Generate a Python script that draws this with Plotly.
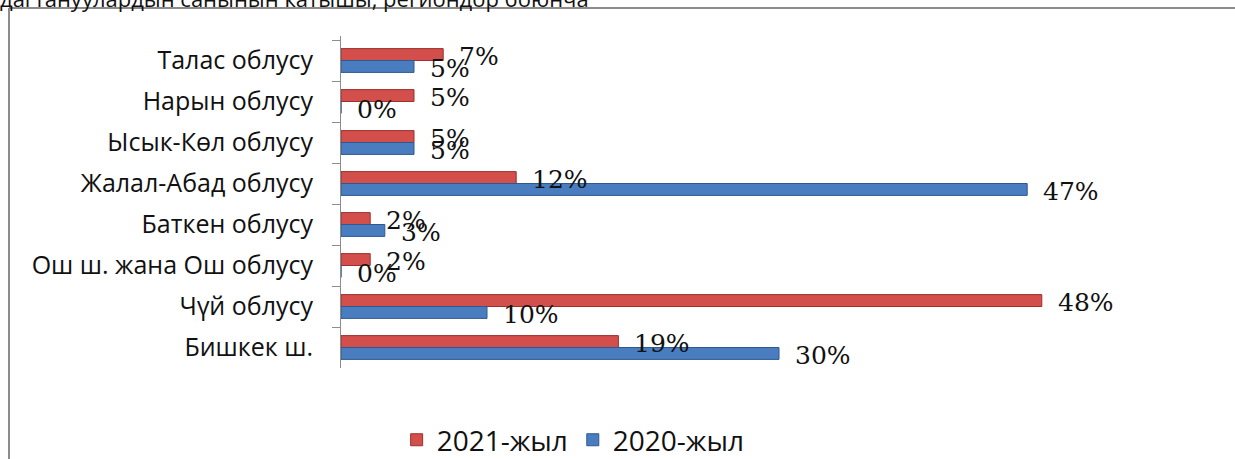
import plotly.graph_objects as go

regions = [
    "Талас облусу",
    "Нарын облусу",
    "Ысык-Көл облусу",
    "Жалал-Абад облусу",
    "Баткен облусу",
    "Ош ш. жана Ош облусу",
    "Чүй облусу",
    "Бишкек ш.",
]
y2021 = [7, 5, 5, 12, 2, 2, 48, 19]
y2020 = [5, 0, 5, 47, 3, 0, 10, 30]
series_names = ["2021-жыл", "2020-жыл"]
title_text = "дагтануулардын санынын катышы, региондор боюнча"

RED = "#D24F4B"
BLUE = "#4A7DC0"

fig = go.Figure()
fig.add_trace(go.Bar(
    y=regions, x=y2021, orientation="h", name=series_names[0],
    marker=dict(color=RED, line=dict(color="#9E2F2C", width=1)),
))
fig.add_trace(go.Bar(
    y=regions, x=y2020, orientation="h", name=series_names[1],
    marker=dict(color=BLUE, line=dict(color="#2D5890", width=1)),
))

# data labels, placed off the bar ends
label_font = dict(family="DejaVu Serif", size=25, color="#111")
for vals, shift in ((y2021, 4), (y2020, -8)):
    for r, v in zip(regions, vals):
        fig.add_annotation(
            x=v, y=r, text=f"{v}%", showarrow=False,
            xanchor="left", xshift=14, yshift=shift, font=label_font,
        )

# partially visible caption above the frame
fig.add_annotation(
    x=-0.392, y=1.062, xref="paper", yref="paper", text=title_text,
    showarrow=False, xanchor="left", yanchor="bottom",
    font=dict(family="Open Sans", size=22, color="#111"),
)

# frame lines (top and left)
fig.add_shape(type="line", xref="paper", yref="paper", x0=-0.379, x1=1.03, y0=1.0843, y1=1.0843,
              line=dict(color="#8c8c8c", width=2))
fig.add_shape(type="line", xref="paper", yref="paper", x0=-0.379, x1=-0.379, y0=1.0843, y1=-0.3,
              line=dict(color="#8c8c8c", width=2))

fig.update_layout(
    width=1235, height=459,
    margin=dict(l=341, r=18, t=36, b=91, autoexpand=False),
    paper_bgcolor="white", plot_bgcolor="white",
    barmode="group", bargap=0.42, bargroupgap=0.0,
    font=dict(family="Open Sans", size=25, color="#111"),
    showlegend=True,
    legend=dict(orientation="h", x=0.265, y=-0.217, xanchor="center", yanchor="middle",
                font=dict(family="Open Sans", size=28, color="#111"), itemwidth=30,
                traceorder="normal"),
    xaxis=dict(range=[0, 60], visible=False, showgrid=False, zeroline=False),
    yaxis=dict(autorange="reversed", showgrid=False, zeroline=False, automargin=False,
               showline=True, linecolor="#8c8c8c", linewidth=1,
               ticks="outside", ticklen=8, tickcolor="#8c8c8c", tickson="boundaries",
               ticklabelstandoff=22),
)

fig.write_html("out.html", config={"displayModeBar": False},
               post_script="document.body.style.margin='0';")
